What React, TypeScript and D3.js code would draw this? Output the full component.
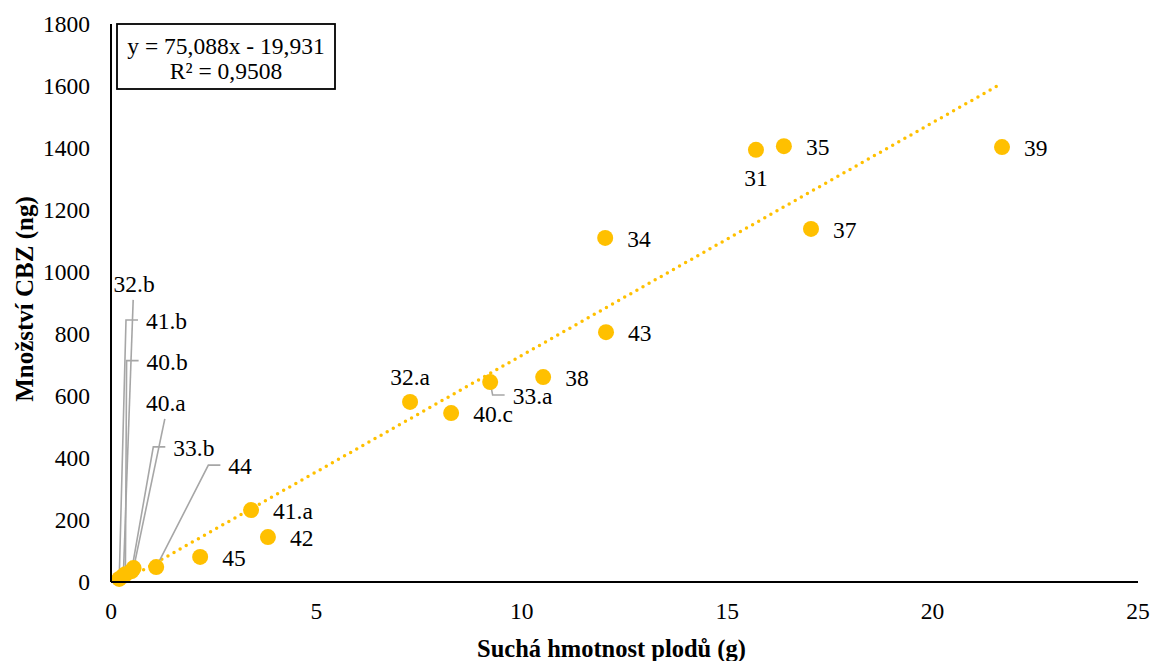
import React from "react";
import * as d3 from "d3";

const width = 1153;
const height = 661;
const margin = { top: 24, right: 15, bottom: 79, left: 111 };

// sample names, dry mass (g), CBZ amount (ng)
const names = ["31", "35", "39", "34", "37", "43", "38", "33.a", "32.a", "40.c", "41.a", "42", "45", "44", "32.b", "41.b", "40.b", "40.a", "33.b"];
const mass = [15.7, 16.38, 21.69, 12.03, 17.04, 12.05, 10.52, 9.23, 7.28, 8.28, 3.41, 3.82, 2.17, 1.1, 0.3, 0.2, 0.35, 0.55, 0.5];
const cbz = [1394, 1406, 1403, 1110, 1139, 806, 661, 645, 581, 545, 232, 145, 81, 48, 20, 10, 25, 45, 35];

// label placement: r = right of point, b = below, a = above, l = leader line to elbow (data units)
const placement = ["b", "r", "r", "r", "r", "r", "r", "l", "a", "r", "r", "r", "r", "l", "la", "l", "l", "la", "l"];
const elbowX = [0, 0, 0, 0, 0, 0, 0, 9.29, 0, 0, 0, 0, 0, 2.37, 0.54, 0.365, 0.38, 1.31, 1.03];
const elbowY = [0, 0, 0, 0, 0, 0, 0, 603, 0, 0, 0, 0, 0, 377, 910, 845, 714, 526, 436];

const xTicks = [0, 5, 10, 15, 20, 25];
const yTicks = [0, 200, 400, 600, 800, 1000, 1200, 1400, 1600, 1800];

const slope = 75.088;
const intercept = -19.931;

const font = "'Liberation Serif', 'Times New Roman', serif";
const gold = "#FFC000";
const grey = "#A6A6A6";

export default function App() {
  const x = d3.scaleLinear().domain([0, 25]).range([margin.left, width - margin.right]);
  const y = d3.scaleLinear().domain([0, 1800]).range([height - margin.bottom, margin.top]);

  const [xMin, xMax] = d3.extent(mass) as [number, number];
  const trend = d3.line<number>()
    .x(d => x(d))
    .y(d => y(slope * d + intercept));

  const labels = names.map((n, i) => {
    const px = x(mass[i]);
    const py = y(cbz[i]);
    const p = placement[i];
    if (p === "r") return { n, tx: px + 22, ty: py + 1, anchor: "start", path: null };
    if (p === "b") return { n, tx: px, ty: py + 28, anchor: "middle", path: null };
    if (p === "a") return { n, tx: px, ty: py - 25, anchor: "middle", path: null };
    const ex = x(elbowX[i]);
    const ey = y(elbowY[i]);
    if (p === "la") {
      return { n, tx: ex + 1, ty: ey - 16, anchor: "middle", path: `M${px},${py}L${ex},${ey}` };
    }
    return { n, tx: ex + 20, ty: ey + 1, anchor: "start", path: `M${px},${py}L${ex},${ey}L${ex + 12},${ey}` };
  });

  return (
    <svg width={width} height={height} style={{ position: "absolute", left: 0, top: 0, background: "#fff" }}>
      <g fontFamily={font} fontSize={23.5} fill="#000">
        {/* trendline */}
        <path
          d={trend([xMin, xMax]) || ""}
          fill="none"
          stroke={gold}
          strokeWidth={3.5}
          strokeDasharray="0 7"
          strokeLinecap="round"
        />

        {/* leader lines */}
        {labels.map(l => l.path && (
          <path key={"p" + l.n} d={l.path} fill="none" stroke={grey} strokeWidth={1.6} />
        ))}

        {/* points */}
        {names.map((n, i) => (
          <circle key={n} cx={x(mass[i])} cy={y(cbz[i])} r={8} fill={gold} />
        ))}

        {/* point labels */}
        {labels.map(l => (
          <text key={"t" + l.n} x={l.tx} y={l.ty} textAnchor={l.anchor} dominantBaseline="central">{l.n}</text>
        ))}

        {/* axes */}
        <line x1={x(0)} x2={x(0)} y1={y(1800)} y2={y(0)} stroke="#000" strokeWidth={2} />
        <line x1={x(0)} x2={x(25)} y1={y(0)} y2={y(0)} stroke="#000" strokeWidth={2} />
        {yTicks.map(t => (
          <text key={"y" + t} x={x(0) - 21} y={y(t)} textAnchor="end" dominantBaseline="central">{t}</text>
        ))}
        {xTicks.map(t => (
          <text key={"x" + t} x={x(t)} y={y(0) + 29} textAnchor="middle" dominantBaseline="central">{t}</text>
        ))}

        {/* axis titles */}
        <text x={(x(0) + x(25)) / 2 - 13} y={648} textAnchor="middle" dominantBaseline="central" fontWeight="bold" fontSize={24.5}>
          Suchá hmotnost plodů (g)
        </text>
        <text
          transform={`translate(24, ${(y(0) + y(1800)) / 2 - 4}) rotate(-90)`}
          textAnchor="middle"
          dominantBaseline="central"
          fontWeight="bold"
          fontSize={25}
        >
          Množství CBZ (ng)
        </text>

        {/* regression equation */}
        <rect x={117} y={24} width={218} height={65} fill="#fff" stroke="#000" strokeWidth={1.8} />
        <text x={226} y={46} textAnchor="middle" dominantBaseline="central">y = 75,088x - 19,931</text>
        <text x={226} y={71} textAnchor="middle" dominantBaseline="central">R² = 0,9508</text>
      </g>
    </svg>
  );
}
